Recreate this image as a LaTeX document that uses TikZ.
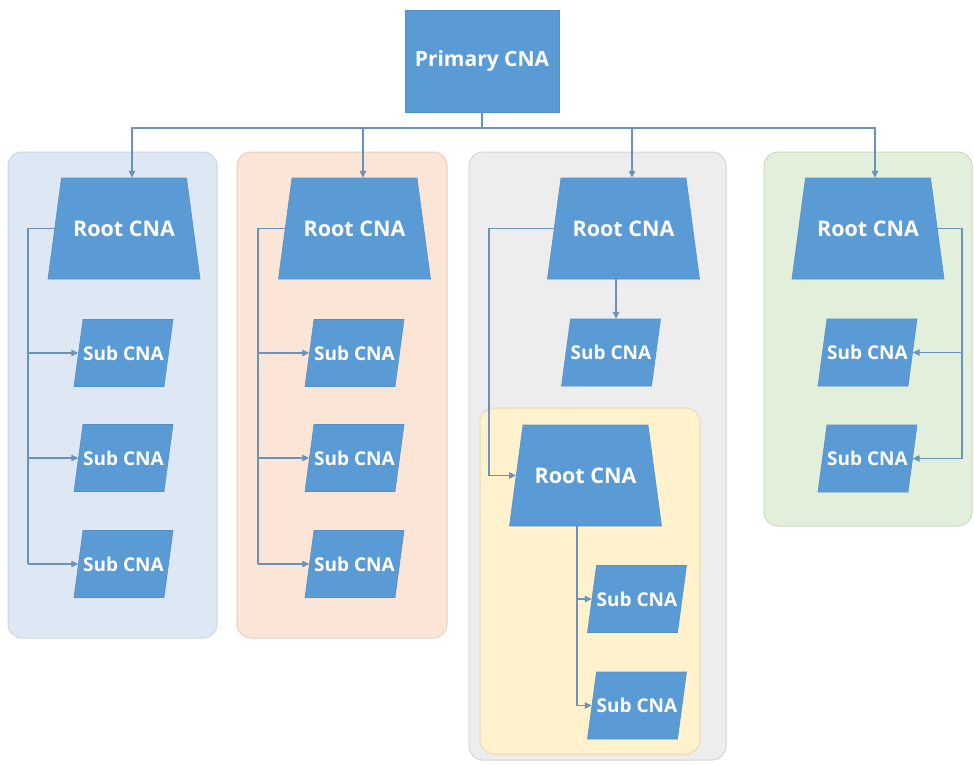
\documentclass[tikz,border=0pt]{standalone}
\usepackage{fontspec}
\setmainfont{Open Sans}
\usetikzlibrary{arrows.meta,calc}
\definecolor{boxblue}{HTML}{5B9BD5}
\definecolor{boxedge}{HTML}{5490C8}
\definecolor{connc}{HTML}{6A92BA}
\definecolor{pblue}{HTML}{DEE8F4}
\definecolor{pbluee}{HTML}{C9D6E4}
\definecolor{porange}{HTML}{FBE5D6}
\definecolor{porangee}{HTML}{E9D0C0}
\definecolor{pgray}{HTML}{EDEDED}
\definecolor{pgraye}{HTML}{D6D6D6}
\definecolor{pyellow}{HTML}{FFF2CC}
\definecolor{pyellowe}{HTML}{E8DAB5}
\definecolor{pgreen}{HTML}{E2EFDA}
\definecolor{pgreene}{HTML}{CCDAC4}
% root trapezoid: name, x, y
\newcommand\rootcna[3]{%
  \fill[boxblue, draw=boxedge, line width=0.6pt]
    ($(#2,#3)+(-62.5,-50.5)$) -- ($(#2,#3)+(62.5,-50.5)$) --
    ($(#2,#3)+(76,50.5)$) -- ($(#2,#3)+(-76,50.5)$) -- cycle;
  \node[rootbox] (#1) at (#2,#3) {Root CNA};}
% sub parallelogram: name, x, y
\newcommand\subcna[3]{%
  \fill[boxblue, draw=boxedge, line width=0.6pt]
    ($(#2,#3)+(-40.5,-33.5)$) -- ($(#2,#3)+(49.5,-33.5)$) --
    ($(#2,#3)+(40.5,33.5)$) -- ($(#2,#3)+(-49.5,33.5)$) -- cycle;
  \node[subbox] (#1) at (#2,#3) {Sub CNA};}
\begin{document}
\begin{tikzpicture}[x=1pt,y=-1pt,
  conn/.style={draw=connc, line width=1.2pt},
  arr/.style={conn,-{Triangle[length=7pt,width=6.5pt]}},
  prim/.style={rectangle, minimum width=154pt, minimum height=102pt, fill=boxblue, draw=boxedge, line width=0.6pt, text=white, font=\fontsize{21}{24}\selectfont\bfseries, inner sep=0pt},
  rootbox/.style={rectangle, minimum width=138.5pt, minimum height=101pt, text=white, font=\fontsize{21.5}{24}\selectfont\bfseries, inner sep=0pt},
  subbox/.style={rectangle, minimum width=90pt, minimum height=67pt, text=white, font=\fontsize{19}{22}\selectfont\bfseries, inner sep=0pt},
  panel/.style={rounded corners=14pt, line width=1pt}
]
\useasboundingbox (0,0) rectangle (974,765);
\fill[white] (0,0) rectangle (974,765);
% panels
\draw[panel, fill=pblue, draw=pbluee] (8,152) rectangle (217,638);
\draw[panel, fill=porange, draw=porangee] (237,152) rectangle (447,638);
\draw[panel, fill=pgray, draw=pgraye] (469,152) rectangle (726,760);
\draw[panel, fill=pyellow, draw=pyellowe] (480,408) rectangle (700,754);
\draw[panel, fill=pgreen, draw=pgreene] (764,152) rectangle (972,526);
% nodes
\node[prim] (p) at (482,61) {Primary CNA};
\coordinate (bus) at (482,128);
\rootcna{r1}{124}{228.5}
\rootcna{r2}{354.5}{228.5}
\rootcna{r3}{623.5}{228.5}
\rootcna{r4}{868}{228.5}
\subcna{s11}{123.5}{353}
\subcna{s12}{123.5}{458}
\subcna{s13}{123.5}{564}
\subcna{s21}{354.5}{353}
\subcna{s22}{354.5}{458}
\subcna{s23}{354.5}{564}
\subcna{s31}{611}{352.5}
\rootcna{ri}{585.5}{475.5}
\subcna{si1}{637}{599}
\subcna{si2}{637}{705.5}
\subcna{s41}{867.5}{352.5}
\subcna{s42}{867.5}{458.5}
% connectors from primary
\draw[conn] (p.south) -- (bus);
\draw[arr] (bus) -| ([xshift=8pt]r1.north);
\draw[arr] (bus) -| ([xshift=8.5pt]r2.north);
\draw[arr] (bus) -| ([xshift=8.5pt]r3.north);
\draw[arr] (bus) -| ([xshift=7pt]r4.north);
% panel 1
\coordinate (v1) at (28,228.5);
\draw[conn] (r1.west) -- (v1) -- (v1 |- s13.west);
\draw[arr] (v1 |- s11.west) -- (s11.west);
\draw[arr] (v1 |- s12.west) -- (s12.west);
\draw[arr] (v1 |- s13.west) -- (s13.west);
% panel 2
\coordinate (v2) at (258,228.5);
\draw[conn] (r2.west) -- (v2) -- (v2 |- s23.west);
\draw[arr] (v2 |- s21.west) -- (s21.west);
\draw[arr] (v2 |- s22.west) -- (s22.west);
\draw[arr] (v2 |- s23.west) -- (s23.west);
% panel 3
\coordinate (a3) at ([xshift=5pt]s31.north);
\draw[arr] (r3.south -| a3) -- (a3);
\coordinate (v3) at (489,228.5);
\draw[arr] (r3.west) -- (v3) |- (ri.west);
\coordinate (v5) at ([xshift=-8.5pt]ri.south);
\draw[conn] (v5) -- (v5 |- si2.west);
\draw[arr] (v5 |- si1.west) -- (si1.west);
\draw[arr] (v5 |- si2.west) -- (si2.west);
% panel 4
\coordinate (v4) at (962,228.5);
\draw[conn] (r4.east) -- (v4) -- (v4 |- s42.east);
\draw[arr] (v4 |- s41.east) -- (s41.east);
\draw[arr] (v4 |- s42.east) -- (s42.east);
\end{tikzpicture}
\end{document}
